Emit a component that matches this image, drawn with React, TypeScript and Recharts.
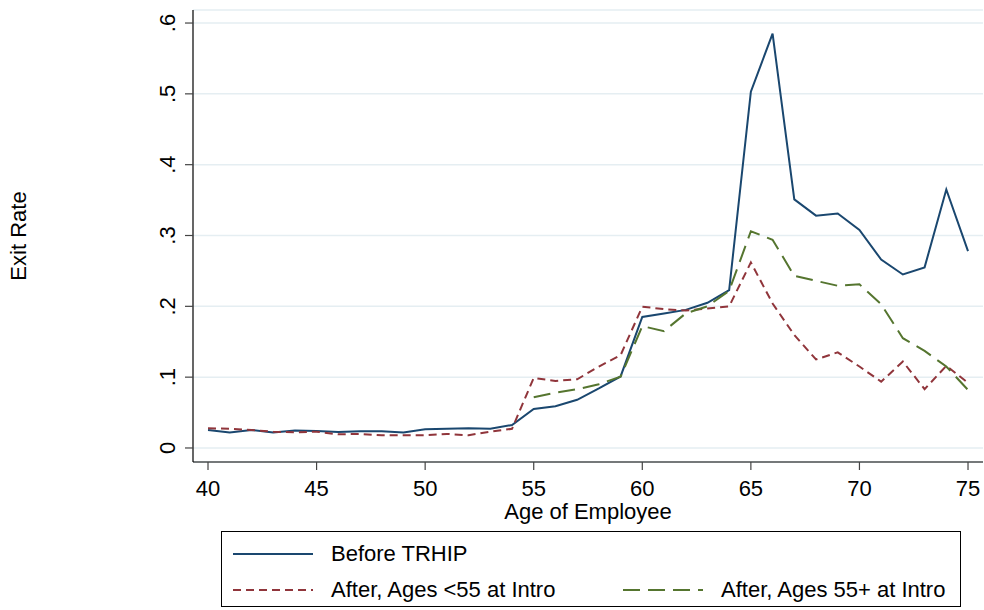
import React from 'react';
import { LineChart, Line, XAxis, YAxis, CartesianGrid, Legend } from 'recharts';

const ages = [40,41,42,43,44,45,46,47,48,49,50,51,52,53,54,55,56,57,58,59,60,61,62,63,64,65,66,67,68,69,70,71,72,73,74,75];

const beforeTRHIP = [0.0254,0.022,0.0254,0.022,0.0245,0.024,0.0226,0.0235,0.0235,0.022,0.0264,0.027,0.0278,0.027,0.0325,0.055,0.059,0.068,0.084,0.101,0.185,0.19,0.195,0.205,0.223,0.503,0.585,0.351,0.328,0.331,0.308,0.266,0.245,0.255,0.365,0.278];

const afterUnder55 = [0.028,0.027,0.0254,0.023,0.022,0.023,0.0193,0.0198,0.018,0.018,0.018,0.0198,0.018,0.023,0.027,0.099,0.0946,0.097,0.115,0.131,0.1995,0.196,0.194,0.197,0.2,0.262,0.204,0.1595,0.125,0.135,0.115,0.0936,0.122,0.083,0.116,0.092];

const after55PlusAges = [55,56,57,58,59,60,61,62,63,64,65,66,67,68,69,70,71,72,73,74,75];
const after55Plus = [0.0715,0.078,0.083,0.09,0.1007,0.172,0.165,0.19,0.2,0.222,0.306,0.294,0.243,0.236,0.229,0.231,0.203,0.155,0.137,0.115,0.082];

const xTicks = [40,45,50,55,60,65,70,75];
const yTicks = [0,0.1,0.2,0.3,0.4,0.5,0.6];

const seriesNames = ['Before TRHIP', 'After, Ages <55 at Intro', 'After, Ages 55+ at Intro'];
const colors = ['#1a476f', '#90353b', '#55752f'];
const dashes = ['', '8 5', '17 8'];

const data = ages.map((a, i) => {
  const j = after55PlusAges.indexOf(a);
  return {
    age: a,
    before: beforeTRHIP[i],
    young: afterUnder55[i],
    old: j >= 0 ? after55Plus[j] : null,
  };
});

const FONT = '"Liberation Sans", Arial, Helvetica, sans-serif';

const fmtY = (v: number) => (v === 0 ? '0' : v.toFixed(1).replace(/^0/, ''));

const YTick = (props: any) => {
  const { x, y, payload } = props;
  const bx = x - 8;
  return (
    <text x={bx} y={y} transform={`rotate(-90, ${bx}, ${y})`} textAnchor="middle" fontSize={22} fontFamily={FONT} fill="#000">
      {fmtY(payload.value)}
    </text>
  );
};

const YLabel = (props: any) => {
  const vb = props.viewBox || { x: 0, y: 10, width: 193, height: 452 };
  const bx = vb.x + 26;
  const cy = vb.y + vb.height / 2;
  return (
    <text x={bx} y={cy} transform={`rotate(-90, ${bx}, ${cy})`} textAnchor="middle" fontSize={22} fontFamily={FONT} fill="#000">
      Exit Rate
    </text>
  );
};

const LegendBox = () => {
  const items = seriesNames.map((n, i) => ({ name: n, color: colors[i], dash: dashes[i] }));
  const pos = [
    { left: 10, top: 8 },
    { left: 10, top: 44 },
    { left: 400, top: 44 },
  ];
  return (
    <div style={{ position: 'relative', width: 740, height: 76, border: '1px solid #000', boxSizing: 'border-box', background: '#fff', fontFamily: FONT }}>
      {items.map((it, i) => (
        <div key={it.name} style={{ position: 'absolute', left: pos[i].left, top: pos[i].top, display: 'flex', alignItems: 'center', height: 28 }}>
          <svg width={82} height={10} style={{ display: 'block' }}>
            <line x1={1} y1={5} x2={81} y2={5} stroke={it.color} strokeWidth={2} strokeDasharray={it.dash || undefined} />
          </svg>
          <span style={{ marginLeft: 17, fontSize: 22, color: '#000', whiteSpace: 'nowrap' }}>{it.name}</span>
        </div>
      ))}
    </div>
  );
};

export default function App() {
  return (
    <div style={{ position: 'absolute', left: 0, top: 0, width: 984, height: 610, background: '#fff' }}>
      <LineChart width={984} height={610} data={data} margin={{ top: 10, right: 1, bottom: 0, left: 0 }}>
        <CartesianGrid horizontal={true} vertical={false} stroke="#e5eef2" strokeWidth={1.5} />
        <XAxis
          type="number"
          dataKey="age"
          domain={[39.309, 75.69]}
          allowDataOverflow
          ticks={xTicks}
          interval={0}
          height={148}
          tickSize={8}
          tickMargin={10}
          axisLine={{ stroke: '#000', strokeWidth: 1.2 }}
          tickLine={{ stroke: '#444', strokeWidth: 1.2 }}
          tick={{ fontSize: 22, fontFamily: FONT, fill: '#000' }}
          label={{ value: 'Age of Employee', position: 'insideTop', offset: 41, fontSize: 22, fontFamily: FONT, fill: '#000' }}
        />
        <YAxis
          type="number"
          domain={[-0.0198, 0.6184]}
          allowDataOverflow
          ticks={yTicks}
          interval={0}
          width={193}
          tickSize={8}
          axisLine={{ stroke: '#000', strokeWidth: 1.2 }}
          tickLine={{ stroke: '#444', strokeWidth: 1.2 }}
          tick={<YTick />}
          label={<YLabel />}
        />
        <Legend
          layout="horizontal"
          verticalAlign="middle"
          align="center"
          content={<LegendBox />}
          wrapperStyle={{ position: 'absolute', left: 221, top: 531, width: 740, height: 76 }}
        />
        <Line type="linear" dataKey="before" stroke={colors[0]} strokeWidth={2} dot={false} isAnimationActive={false} />
        <Line type="linear" dataKey="young" stroke={colors[1]} strokeWidth={2} strokeDasharray={dashes[1]} dot={false} isAnimationActive={false} />
        <Line type="linear" dataKey="old" stroke={colors[2]} strokeWidth={2} strokeDasharray={dashes[2]} dot={false} isAnimationActive={false} />
      </LineChart>
    </div>
  );
}
